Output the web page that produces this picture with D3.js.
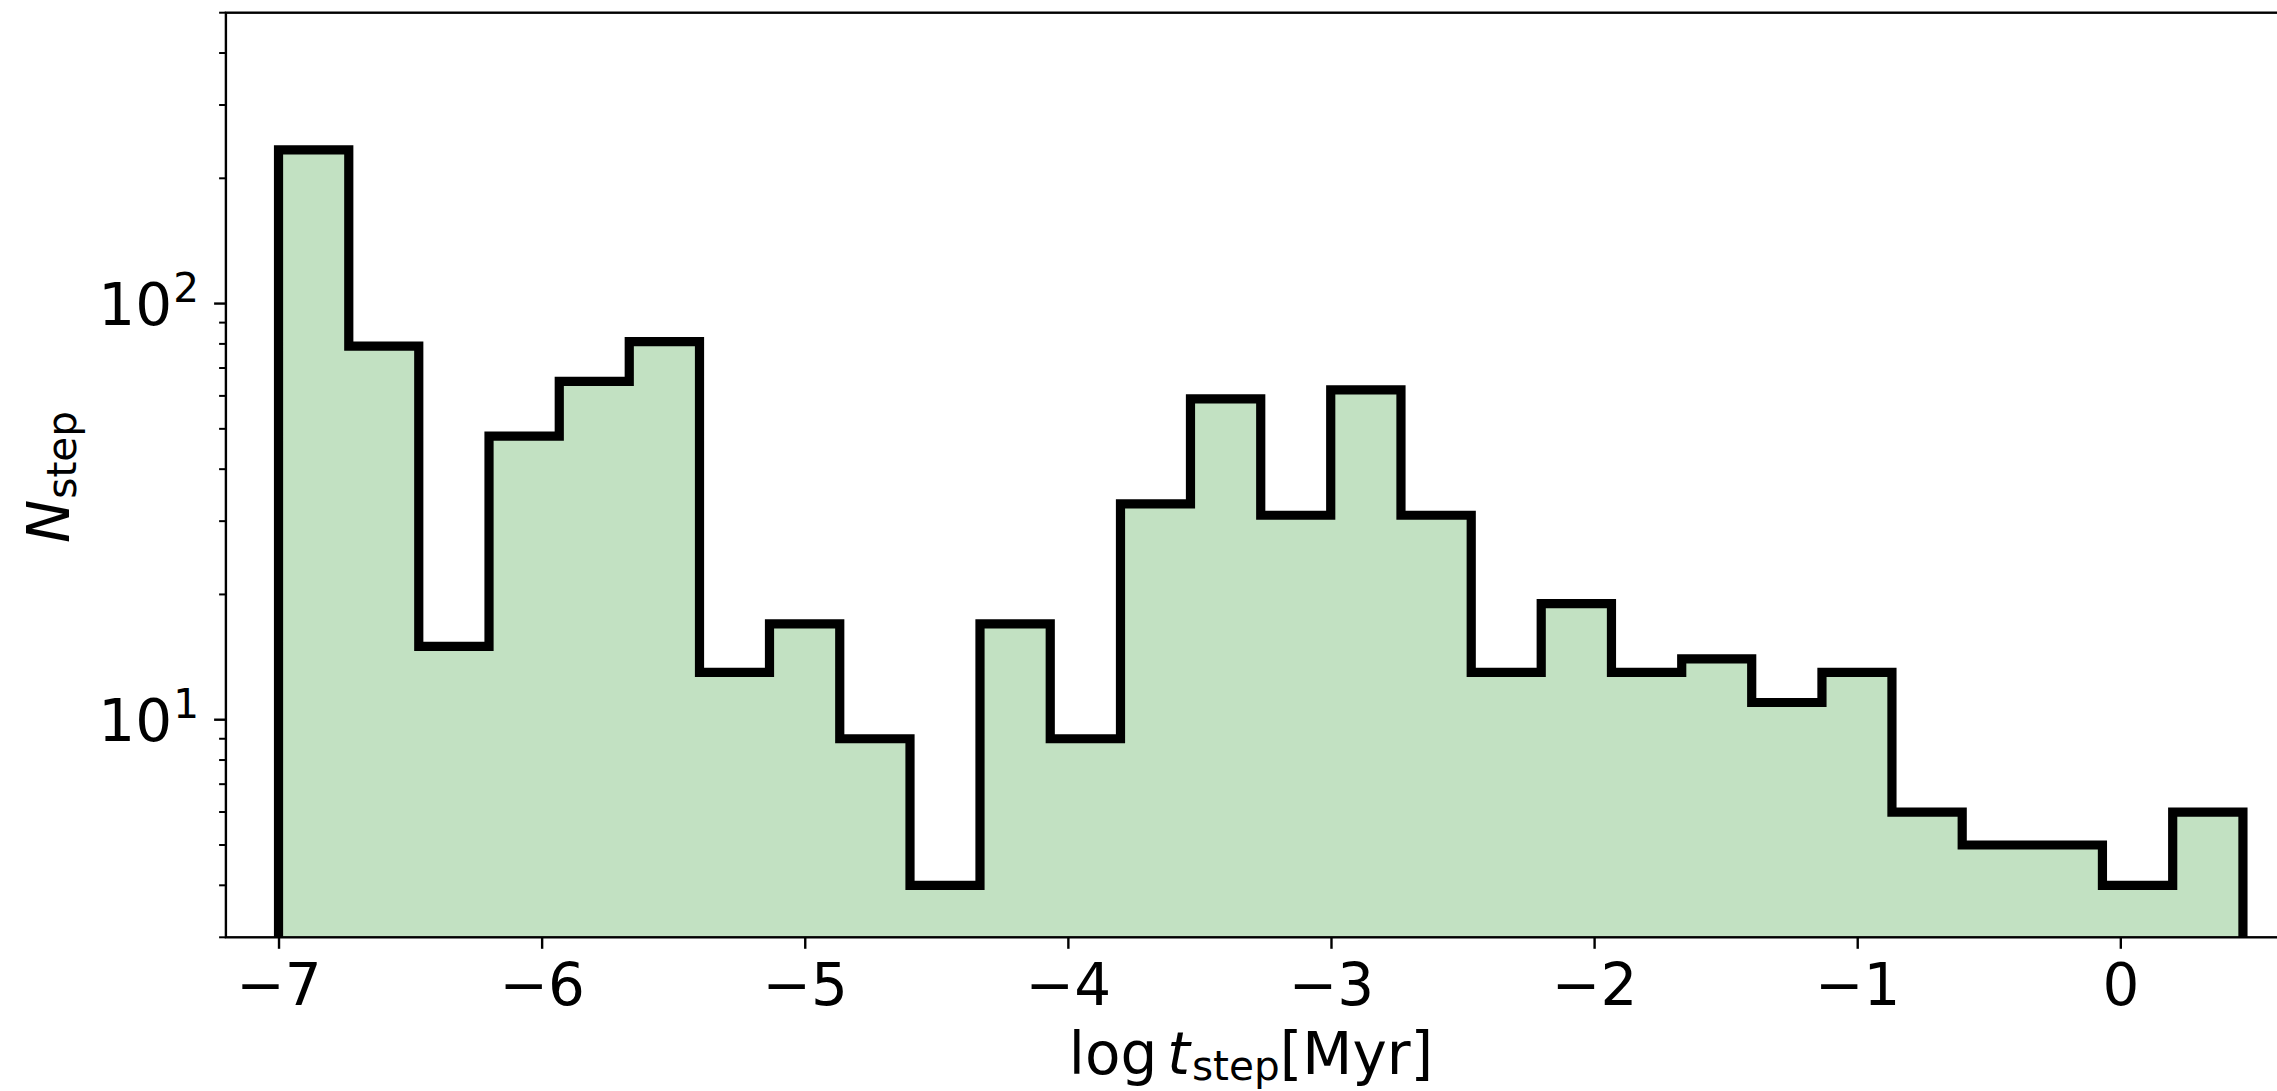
<!DOCTYPE html>
<html>
<head>
<meta charset="utf-8">
<script src="https://cdn.jsdelivr.net/npm/d3@7"></script>
<style>
  html, body { margin: 0; padding: 0; background: #fff; overflow: hidden; }
  svg { display: block; }
  text { font-family: "DejaVu Sans", sans-serif; fill: #000; }
</style>
</head>
<body>
<svg id="chart" width="2277" height="1091"></svg>
<script>
// Histogram bin edges in log t_step [Myr]
const binEdges = [-7.000, -6.733, -6.467, -6.200, -5.933, -5.667, -5.400, -5.134,
                  -4.867, -4.600, -4.334, -4.067, -3.800, -3.534, -3.267, -3.001,
                  -2.734, -2.467, -2.201, -1.934, -1.667, -1.401, -1.134, -0.868,
                  -0.601, -0.334, -0.068, 0.199, 0.466];
// Number of steps in each bin
const counts = [234, 79, 15, 48, 65, 81, 13, 17, 9, 4, 17, 9, 33, 59,
                31, 62, 31, 13, 19, 13, 14, 11, 13, 6, 5, 5, 4, 6];

const xTickValues = [-7, -6, -5, -4, -3, -2, -1, 0];
const yDecadeTicks = [10, 100];
const yDecadeExponents = ["1", "2"];
const yMinorTicks = [3, 4, 5, 6, 7, 8, 9, 20, 30, 40, 50, 60, 70, 80, 90, 200, 300, 400, 500];
const xDomain = [-7.2, 0.6];
const yDomain = [3, 500];

const svg = d3.select("#chart");
const plot = { left: 225.9, right: 2278.2, top: 12.7, bottom: 937.3 };
const FS = 58;          // base font size
const SUB = FS * 0.7;   // sub/superscript size

const x = d3.scaleLinear().domain(xDomain).range([plot.left, plot.right]);
const y = d3.scaleLog().domain(yDomain).range([plot.bottom, plot.top]);

svg.append("defs").append("clipPath").attr("id", "plotClip")
  .append("rect")
  .attr("x", plot.left).attr("y", plot.top)
  .attr("width", plot.right - plot.left).attr("height", plot.bottom - plot.top);

// Step outline points
const stepPts = [];
stepPts.push([binEdges[0], null]);
counts.forEach((c, i) => {
  stepPts.push([binEdges[i], c]);
  stepPts.push([binEdges[i + 1], c]);
});
stepPts.push([binEdges[binEdges.length - 1], null]);

const yOf = d => d[1] === null ? plot.bottom + 30 : y(d[1]);

const g = svg.append("g").attr("clip-path", "url(#plotClip)");

// Filled histogram
const area = d3.area()
  .x(d => x(d[0]))
  .y0(plot.bottom + 30)
  .y1(d => yOf(d));
g.append("path")
  .datum(stepPts.slice(1, -1))
  .attr("d", area)
  .attr("fill", "#c2e1c2")
  .attr("stroke", "none");

// Step outline
const line = d3.line().x(d => x(d[0])).y(d => yOf(d));
g.append("path")
  .datum(stepPts)
  .attr("d", line)
  .attr("fill", "none")
  .attr("stroke", "#000")
  .attr("stroke-width", 9.2)
  .attr("stroke-linejoin", "miter")
  .attr("stroke-linecap", "butt");

// Spines
svg.append("rect")
  .attr("x", plot.left).attr("y", plot.top)
  .attr("width", plot.right - plot.left).attr("height", plot.bottom - plot.top)
  .attr("fill", "none").attr("stroke", "#000").attr("stroke-width", 2.4);

// X axis
const xAxis = d3.axisBottom(x)
  .tickValues(xTickValues)
  .tickSizeInner(11.5)
  .tickSizeOuter(0)
  .tickFormat(d => (d < 0 ? "\u2212" : "") + Math.abs(d));
const gx = svg.append("g").attr("transform", `translate(0,${plot.bottom})`).call(xAxis);
gx.select(".domain").remove();
gx.selectAll(".tick line").attr("stroke", "#000").attr("stroke-width", 2.4);
gx.selectAll(".tick text")
  .attr("y", 67.7).attr("dy", null)
  .attr("font-size", FS).attr("font-family", "DejaVu Sans")
  .attr("fill", "#000");

// Y axis: minor ticks
const gy = svg.append("g");
gy.selectAll("line.minor")
  .data(yMinorTicks)
  .join("line")
  .attr("class", "minor")
  .attr("x1", plot.left - 6.8).attr("x2", plot.left)
  .attr("y1", d => y(d)).attr("y2", d => y(d))
  .attr("stroke", "#000").attr("stroke-width", 2.0);

// Y axis: decade ticks
gy.selectAll("line.major")
  .data(yDecadeTicks)
  .join("line")
  .attr("class", "major")
  .attr("x1", plot.left - 11.8).attr("x2", plot.left)
  .attr("y1", d => y(d)).attr("y2", d => y(d))
  .attr("stroke", "#000").attr("stroke-width", 2.4);

const yLabels = gy.selectAll("text.ylab")
  .data(yDecadeTicks)
  .join("text")
  .attr("class", "ylab")
  .attr("x", 199)
  .attr("y", d => y(d) + 21.7)
  .attr("text-anchor", "end")
  .attr("font-size", FS);
yLabels.append("tspan").text("10");
yLabels.append("tspan")
  .attr("font-size", SUB)
  .attr("dy", -23.3)
  .attr("dx", 1)
  .text((d, i) => yDecadeExponents[i]);

// X axis label: log t_step [Myr]
const xl = svg.append("text")
  .attr("x", 1251).attr("y", 1074)
  .attr("text-anchor", "middle")
  .attr("font-size", FS);
xl.append("tspan").text("log");
xl.append("tspan").attr("dx", 10).attr("font-style", "italic").text("t");
xl.append("tspan").attr("dx", 2).attr("dy", 6).attr("font-size", SUB).text("step");
xl.append("tspan").attr("dy", -6).attr("font-size", FS).text("[Myr]");

// Y axis label: N_step
const yl = svg.append("text")
  .attr("transform", "translate(69,477) rotate(-90)")
  .attr("text-anchor", "middle")
  .attr("font-size", FS);
yl.append("tspan").attr("font-style", "italic").text("N");
yl.append("tspan").attr("dx", 1).attr("dy", 7).attr("font-size", SUB).text("step");
</script>
</body>
</html>
